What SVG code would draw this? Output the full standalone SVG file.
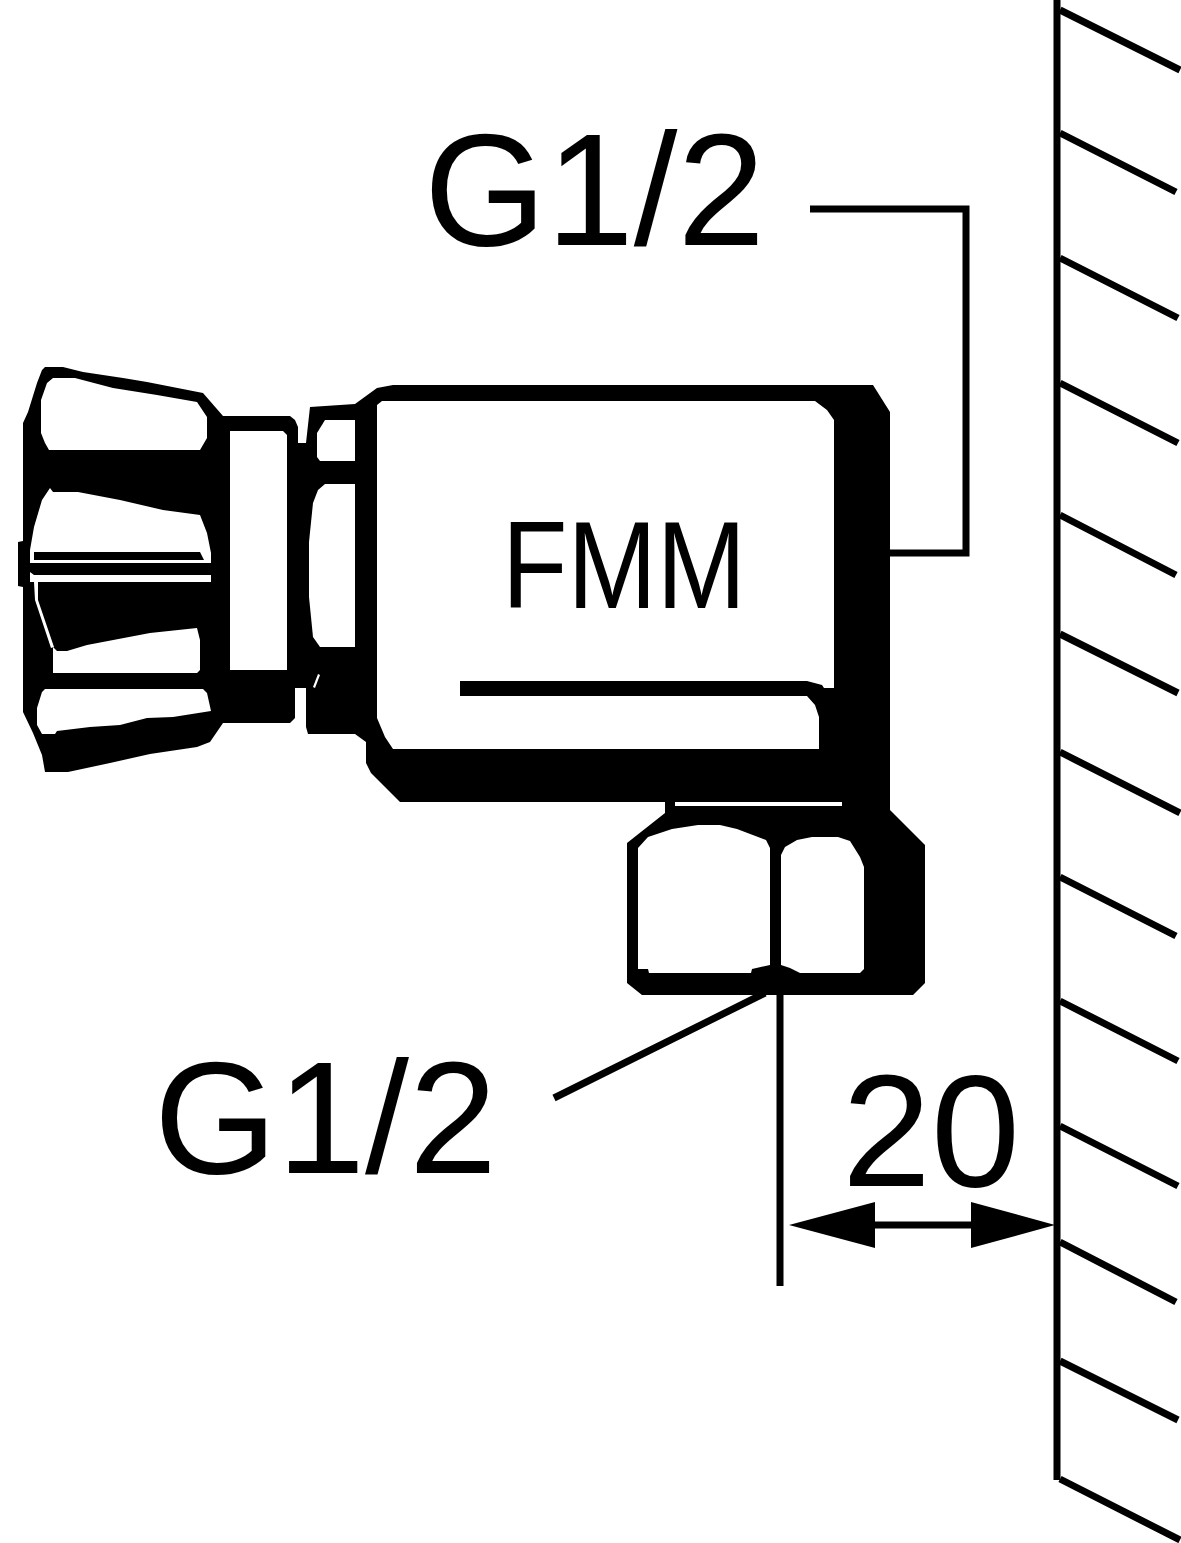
<svg xmlns="http://www.w3.org/2000/svg" width="1181" height="1543" viewBox="0 0 1181 1543">
<style>
.l{fill:none;stroke:#000;stroke-width:7}
.k{fill:#000}
.w{fill:#fff}
.t{font-family:"Liberation Sans",Arial,sans-serif;font-size:160px;fill:#000}
.f{font-family:"Liberation Sans",Arial,sans-serif;font-size:125px;fill:#000}
</style>
<rect width="1181" height="1543" fill="#fff"/>
<g id="fitting">
<path class="k" d="M45 367L63 367L83 372L123 378L147 382L203 393L223 416L290 416L295 420L298 427L298 443L306 443L310 407L355 404L377 388L393 385L873 385L890 412L890 810L925 845L925 983L913 995L642 995L627 983L627 843L665 813L665 802L400 802L371 773L366 763L366 742L355 734L308 734L306 727L306 688L295 688L295 718L290 723L223 723L210 742L197 747L150 754L110 763L68 772L45 772L42 755L33 733L23 712L23 587L18 586L18 542L23 541L23 423L28 412L37 383L42 370Z"/>
<path class="w" d="M53 378L75 378L113 388L157 395L197 402L207 417L207 438L200 450L49 450L45 443L41 433L41 400L47 383Z"/>
<path class="w" d="M50 488L53 492L78 492L120 500L163 510L200 515L207 533L211 553L211 563L30 563L30 550L34 527L42 500Z"/>
<path class="k" d="M34 552L200 552L204 560L34 560Z"/>
<path class="w" d="M30 572L34 575L211 575L211 582L38 582L38 600L54 647L51 648L35 600L34 582L30 582Z"/>
<path class="w" d="M57 651L67 651L87 645L150 633L197 628L200 640L200 670L197 673L53 673L53 647Z"/>
<path class="w" d="M45 689L203 689L207 693L211 711L173 717L147 718L120 725L90 727L57 731L55 734L42 734L37 725L37 708L42 692Z"/>
<path class="w" d="M230 431L283 431L287 435L287 670L230 670Z"/>
<path class="w" d="M325 420L355 420L355 461L320 461L317 457L317 433Z"/>
<path class="w" d="M325 484L355 484L355 647L320 647L313 637L309 597L309 542L313 503L318 490Z"/>
<path class="w" d="M318 674L320 675L315 688L313 687Z"/>
<path class="w" d="M382 401L815 401L827 410L834 420L834 688L824 688L822 685L807 681L460 681L460 696L807 696L815 705L819 717L819 749L393 749L385 737L377 718L377 405Z"/>
<rect class="w" x="675" y="802" width="167" height="4"/>
<path class="w" d="M638 848L648 837L672 829L698 825L720 825L737 829L766 840L770 848L770 965L752 969L751 973L649 973L648 969L638 969Z"/>
<path class="w" d="M781 855L785 847L797 840L812 837L838 837L850 841L860 857L864 867L864 969L860 973L800 973L790 968L781 965Z"/>
</g>
<text id="label-fmm" class="f" x="502" y="608" textLength="244" lengthAdjust="spacingAndGlyphs">FMM</text>
<g id="connectors">
<path class="l" d="M810 209H966V553H890"/>
<path class="l" d="M554 1098L765 993"/>
<path class="l" d="M780 990V1286"/>
<path class="l" d="M875 1225H971"/>
<path class="k" d="M789 1225L875 1202V1248Z"/>
<path class="k" d="M1055 1225L971 1202V1248Z"/>
</g>
<g id="wall">
<path class="l" d="M1057 0V1480"/>
<path class="l" d="M1060 10L1180 70M1060 133L1176 192M1060 258L1178 318M1060 383L1178 443M1060 515L1176 575M1060 634L1178 693M1060 752L1180 813M1060 877L1176 936M1060 1001L1178 1061M1060 1126L1178 1186M1060 1242L1176 1302M1060 1361L1178 1420M1060 1479L1180 1540"/>
</g>
<text id="label-top" class="t" x="424" y="245" textLength="341" lengthAdjust="spacingAndGlyphs">G1/2</text>
<text id="label-bottom" class="t" x="154" y="1173" textLength="343" lengthAdjust="spacingAndGlyphs">G1/2</text>
<text id="label-dim" class="t" x="842" y="1186">20</text>
</svg>
